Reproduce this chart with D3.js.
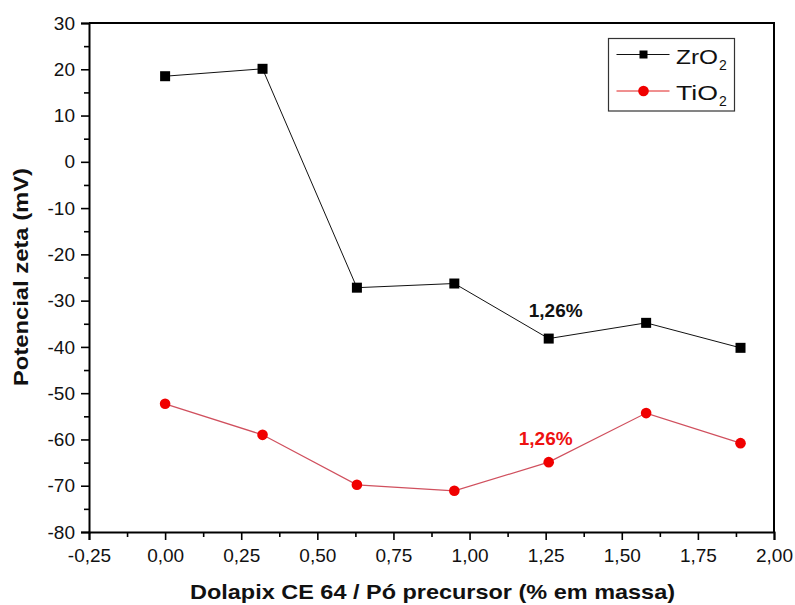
<!DOCTYPE html>
<html>
<head>
<meta charset="utf-8">
<script src="https://cdn.jsdelivr.net/npm/d3@7"></script>
<style>
  html, body { margin: 0; padding: 0; background: #fff; }
  svg { display: block; font-family: Arial, "Liberation Sans", sans-serif; }
</style>
</head>
<body>
<svg id="chart" width="795" height="605"></svg>
<script>
// Dispersant content (% by mass) and zeta potential (mV)
const dosage = [0.00, 0.32, 0.63, 0.95, 1.26, 1.58, 1.89];
const zro2 = [18.5, 20.1, -27.2, -26.3, -38.2, -34.8, -40.2];
const tio2 = [-52.3, -59.0, -69.8, -71.1, -64.9, -54.3, -60.8];
const xTicks = [-0.25, 0, 0.25, 0.5, 0.75, 1.0, 1.25, 1.5, 1.75, 2.0];
const yTicks = [30, 20, 10, 0, -10, -20, -30, -40, -50, -60, -70, -80];
const highlight = 1.26;

const svg = d3.select("#chart");
const plotL = 89, plotR = 774, plotT = 23, plotB = 532;

const x = d3.scaleLinear().domain([-0.25, 2.0]).range([plotL, plotR]);
const y = d3.scaleLinear().domain([-80, 30]).range([plotB, plotT]);

// Decimal comma, plain hyphen for negatives
const fmt = v => v.toFixed(2).replace(".", ",");
const fmtInt = v => String(v);

// Minor ticks
const xMinor = d3.range(-0.125, 2.0, 0.25);
const yMinor = d3.range(-75, 30, 10);

const gx = svg.append("g").attr("transform", `translate(0,${plotB})`);
gx.call(d3.axisBottom(x).tickValues(xTicks).tickFormat(fmt).tickSize(8).tickPadding(9));
gx.append("g").call(d3.axisBottom(x).tickValues(xMinor).tickFormat("").tickSize(5))
  .select(".domain").remove();

const gy = svg.append("g").attr("transform", `translate(${plotL},0)`);
gy.call(d3.axisLeft(y).tickValues(yTicks).tickFormat(fmtInt).tickSize(8).tickPadding(6));
gy.append("g").call(d3.axisLeft(y).tickValues(yMinor).tickFormat("").tickSize(5))
  .select(".domain").remove();

svg.selectAll(".domain").attr("stroke-width", 2);
svg.selectAll(".tick line").attr("stroke-width", 1.6).attr("stroke", "#000");
svg.selectAll(".tick text").attr("font-size", 19).attr("fill", "#111")
  .attr("font-family", "Arial, 'Liberation Sans', sans-serif");

// Frame top and right
svg.append("path")
  .attr("d", `M${plotL},${plotT}H${plotR}V${plotB}`)
  .attr("fill", "none").attr("stroke", "#000").attr("stroke-width", 2);

// Axis titles
svg.append("text")
  .attr("x", 432.5).attr("y", 599)
  .attr("text-anchor", "middle")
  .attr("textLength", 485).attr("lengthAdjust", "spacingAndGlyphs")
  .attr("font-size", 21).attr("font-weight", "bold").attr("fill", "#111")
  .text("Dolapix CE 64 / Pó precursor (% em massa)");

svg.append("text")
  .attr("transform", `translate(28,277) rotate(-90)`)
  .attr("text-anchor", "middle")
  .attr("textLength", 218).attr("lengthAdjust", "spacingAndGlyphs")
  .attr("font-size", 21).attr("font-weight", "bold").attr("fill", "#111")
  .text("Potencial zeta (mV)");

const line = d3.line().x(d => x(d[0])).y(d => y(d[1]));

// ZrO2 series
const zData = dosage.map((d, i) => [d, zro2[i]]);
svg.append("path").datum(zData).attr("d", line)
  .attr("fill", "none").attr("stroke", "#111").attr("stroke-width", 1);
svg.append("g").selectAll("rect").data(zData).join("rect")
  .attr("x", d => x(d[0]) - 5).attr("y", d => y(d[1]) - 5)
  .attr("width", 10).attr("height", 10).attr("fill", "#000");

// TiO2 series
const tData = dosage.map((d, i) => [d, tio2[i]]);
svg.append("path").datum(tData).attr("d", line)
  .attr("fill", "none").attr("stroke", "#d0505e").attr("stroke-width", 1.2);
svg.append("g").selectAll("circle").data(tData).join("circle")
  .attr("cx", d => x(d[0])).attr("cy", d => y(d[1])).attr("r", 5.3)
  .attr("fill", "#f00000");

// Labels at the 1,26 % dosage
const hi = dosage.indexOf(highlight);
svg.append("text")
  .attr("x", x(highlight) + 7).attr("y", y(zro2[hi]) - 22)
  .attr("text-anchor", "middle").attr("font-size", 19).attr("font-weight", "bold")
  .attr("fill", "#111").text(fmt(highlight) + "%");
svg.append("text")
  .attr("x", x(highlight) - 3).attr("y", y(tio2[hi]) - 17)
  .attr("text-anchor", "middle").attr("font-size", 19).attr("font-weight", "bold")
  .attr("fill", "#ee1111").text(fmt(highlight) + "%");

// Legend
const lg = svg.append("g");
lg.append("rect").attr("x", 608.5).attr("y", 38.5).attr("width", 126).attr("height", 72.5)
  .attr("fill", "#fff").attr("stroke", "#333").attr("stroke-width", 1.2);
const items = [
  { name: "ZrO", color: "#111", marker: "square", cy: 54.5 },
  { name: "TiO", color: "#e02020", marker: "circle", cy: 91 }
];
items.forEach(it => {
  lg.append("line").attr("x1", 616.5).attr("x2", 669.5).attr("y1", it.cy).attr("y2", it.cy)
    .attr("stroke", it.color).attr("stroke-width", 1);
  if (it.marker === "square") {
    lg.append("rect").attr("x", 643.5 - 4).attr("y", it.cy - 4).attr("width", 8).attr("height", 8)
      .attr("fill", "#000");
  } else {
    lg.append("circle").attr("cx", 643.5).attr("cy", it.cy).attr("r", 5.3).attr("fill", "#f00000");
  }
  lg.append("text").attr("x", 676).attr("y", it.cy + 9)
    .attr("font-size", 20).attr("fill", "#111")
    .attr("textLength", 42).attr("lengthAdjust", "spacingAndGlyphs")
    .text(it.name);
  lg.append("text").attr("x", 719).attr("y", it.cy + 15)
    .attr("font-size", 14).attr("fill", "#111")
    .text("2");
});
</script>
</body>
</html>
